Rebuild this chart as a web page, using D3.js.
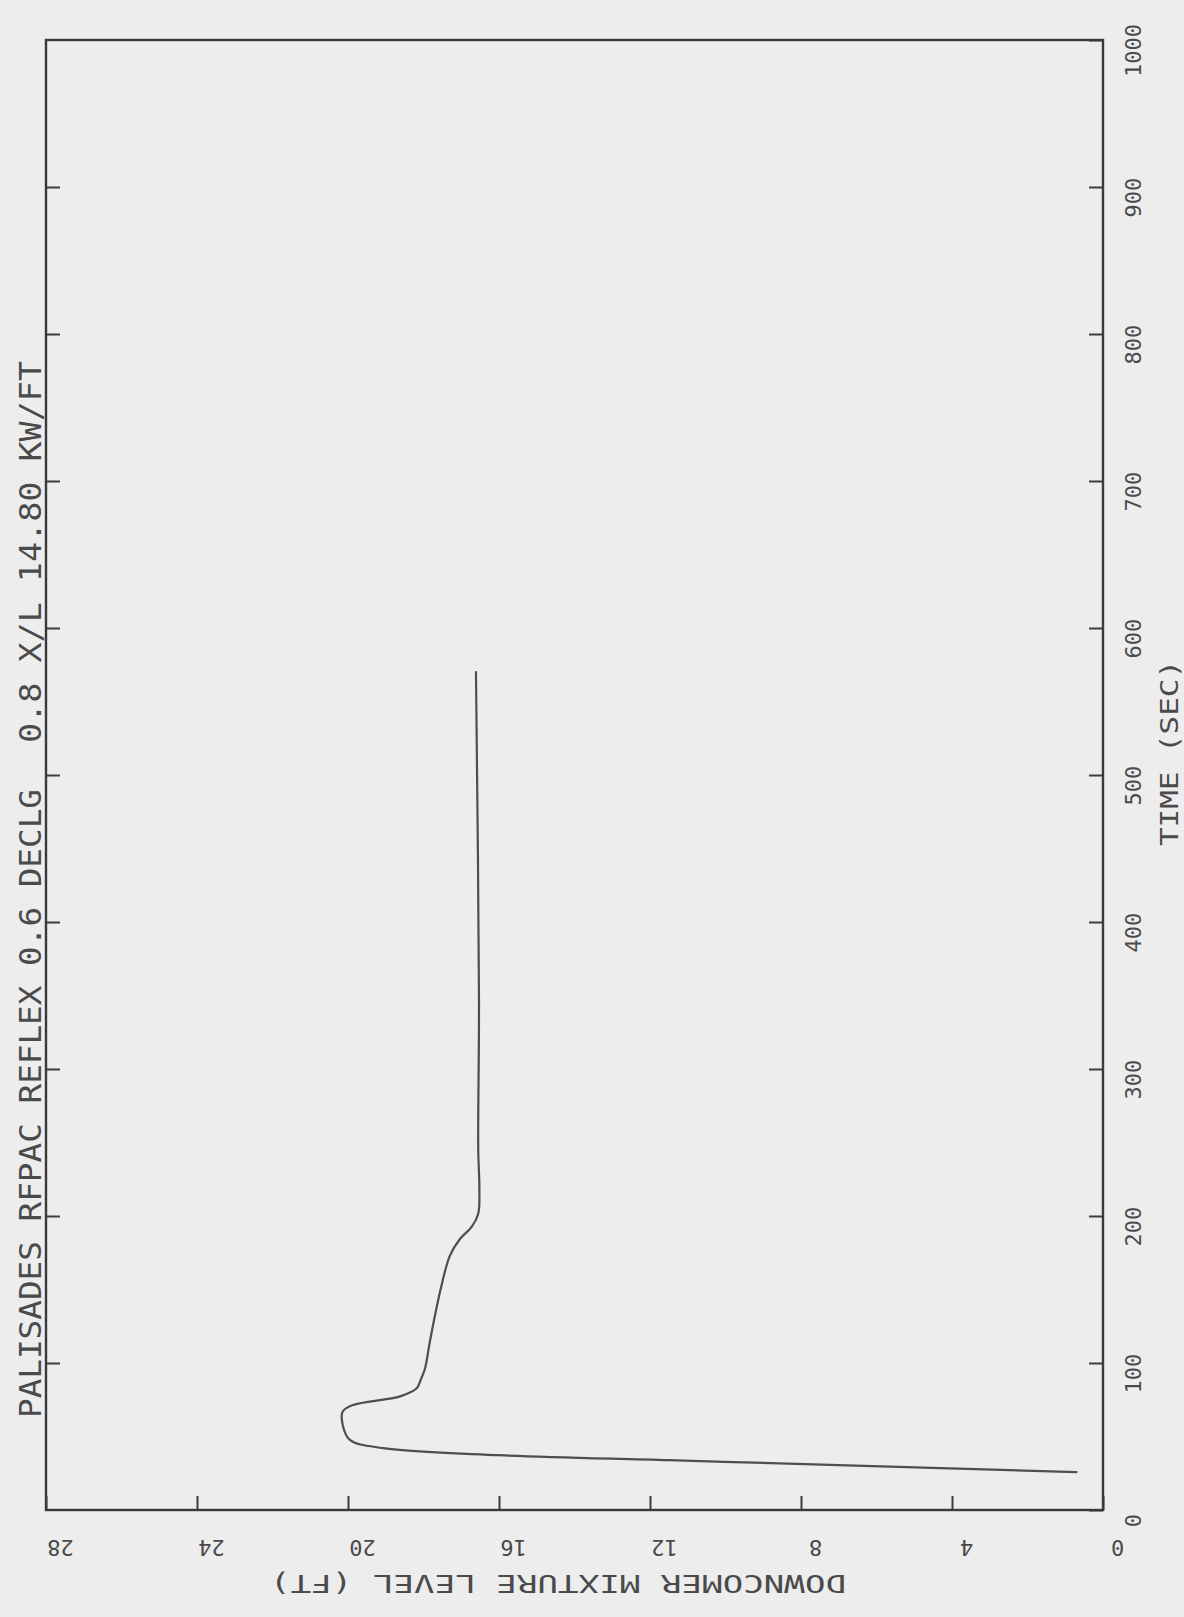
<!DOCTYPE html>
<html>
<head>
<meta charset="utf-8">
<script src="https://cdn.jsdelivr.net/npm/d3@7"></script>
<style>
  body { margin: 0; background: #ededed; }
  svg { display: block; }
  .tick text { fill: #4a4a4a; }
</style>
</head>
<body>
<div id="chart"></div>
<script>
// time (s) vs downcomer mixture level (ft)
var timeSec = [25.8, 30.5, 33.9, 37.3, 42.1, 47.7, 57.9, 67.0, 71.4, 77.3, 82.8, 87.5, 96.3, 114.7, 148.6, 173, 184.5, 192.7, 201.5, 218.5, 245.6, 347, 570];
var levelFt = [0.7, 7.0, 11.5, 16.0, 19.07, 19.95, 20.14, 20.14, 19.87, 18.62, 18.18, 18.09, 17.96, 17.83, 17.56, 17.30, 17.03, 16.72, 16.55, 16.52, 16.55, 16.53, 16.61];
var timeTicks = [0, 100, 200, 300, 400, 500, 600, 700, 800, 900, 1000];
var levelTicks = [0, 4, 8, 12, 16, 20, 24, 28];

var titleLeft = "PALISADES RFPAC REFLEX 0.6 DECLG";
var titleRight = "0.8 X/L 14.80 KW/FT";
var timeLabel = "TIME (SEC)";
var levelLabel = "DOWNCOMER MIXTURE LEVEL (FT)";

var W = 1184, H = 1617;
var frame = {left: 46, right: 1103, top: 40, bottom: 1510};
var font = "'DejaVu Sans Mono', 'Liberation Mono', monospace";

var svg = d3.select("#chart").append("svg")
    .attr("width", W)
    .attr("height", H);

svg.append("rect").attr("width", W).attr("height", H).attr("fill", "#ededed");

// the plot is turned on its side: time runs upward, level runs right-to-left
var x = d3.scaleLinear().domain([0, 28]).range([frame.right, frame.left]);
var y = d3.scaleLinear().domain([0, 1000]).range([frame.bottom, frame.top]);

var data = timeSec.map(function(t, i) { return {time: t, level: levelFt[i]}; });

// time axis on the right
var right = svg.append("g")
    .attr("transform", "translate(" + frame.right + ",0)")
    .call(d3.axisRight(y).tickValues(timeTicks).tickFormat(d3.format("d"))
      .tickSizeInner(-14).tickSizeOuter(0).tickPadding(30));
right.select(".domain").remove();
right.selectAll("text")
    .attr("font-family", font)
    .attr("font-size", 22)
    .attr("text-anchor", "middle")
    .attr("dominant-baseline", "central")
    .attr("x", null).attr("dy", null)
    .attr("transform", "translate(30,10) rotate(-90)");

// mirrored ticks on the left side
var left = svg.append("g")
    .attr("transform", "translate(" + frame.left + ",0)")
    .call(d3.axisLeft(y).tickValues(timeTicks.slice(1, -1)).tickSizeInner(-14).tickSizeOuter(0).tickFormat(""));
left.select(".domain").remove();

// level axis on the bottom, labels upside down
var bottom = svg.append("g")
    .attr("transform", "translate(0," + frame.bottom + ")")
    .call(d3.axisBottom(x).tickValues(levelTicks).tickFormat(d3.format("d"))
      .tickSizeInner(-14).tickSizeOuter(0));
bottom.select(".domain").remove();
bottom.selectAll("text")
    .attr("font-family", font)
    .attr("font-size", 22)
    .attr("text-anchor", "middle")
    .attr("dominant-baseline", "central")
    .attr("y", null).attr("dy", null)
    .attr("transform", "translate(14,37) rotate(180)");

svg.selectAll(".tick line").attr("stroke", "#3c3c3c").attr("stroke-width", 2);

// frame
svg.append("rect")
    .attr("x", frame.left)
    .attr("y", frame.top)
    .attr("width", frame.right - frame.left)
    .attr("height", frame.bottom - frame.top)
    .attr("fill", "none")
    .attr("stroke", "#3a3a3a")
    .attr("stroke-width", 2.4);

var line = d3.line()
    .x(function(d) { return x(d.level); })
    .y(function(d) { return y(d.time); })
    .curve(d3.curveCatmullRom);

svg.append("path")
    .datum(data)
    .attr("fill", "none")
    .attr("stroke", "#4e4e4e")
    .attr("stroke-width", 2.2)
    .attr("stroke-linejoin", "round")
    .attr("stroke-linecap", "round")
    .attr("d", line);

// titles
function sideText(txt, cx, cy, rot, size, len) {
  svg.append("text")
      .attr("transform", "translate(" + cx + "," + cy + ") rotate(" + rot + ")")
      .attr("text-anchor", "middle")
      .attr("dominant-baseline", "central")
      .attr("font-family", font)
      .attr("font-size", size)
      .attr("fill", "#4a4a4a")
      .attr("textLength", len)
      .attr("lengthAdjust", "spacingAndGlyphs")
      .text(txt);
}

sideText(titleLeft, 30, (1418 + 789) / 2, -90, 30, 1418 - 789);
sideText(titleRight, 30, (743 + 361) / 2, -90, 30, 743 - 361);
sideText(timeLabel, 1170, 753, -90, 24, 186);
sideText(levelLabel, 558, 1583, 180, 25, 576);
</script>
</body>
</html>
